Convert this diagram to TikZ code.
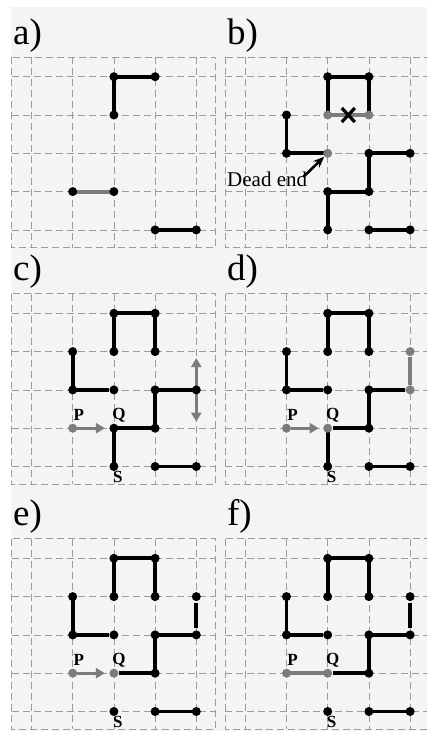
\documentclass[tikz,border=0pt]{standalone}
\usepackage{fontspec}
\setmainfont{Liberation Serif}
\usepackage{tikz}
\usetikzlibrary{arrows.meta,calc}
\definecolor{paper}{HTML}{F4F4F4}
\definecolor{gridgray}{HTML}{9C9C9C}
\definecolor{trialgray}{HTML}{7C7C7C}
\tikzset{
  gridline/.style ={draw=gridgray,line width=0.8pt,dash pattern=on 7pt off 4pt},
  link/.style     ={line width=3.8pt,black},
  trial/.style    ={line width=3.8pt,trialgray},
  vtx/.style      ={fill=black},
  gvtx/.style     ={fill=trialgray},
  probe/.style    ={>={Triangle[length=9pt,width=10pt]},line width=2.6pt,trialgray},
  pointer/.style  ={-{Stealth[length=11pt,width=9pt]},line width=2.6pt,black},
  xmark/.style    ={line width=3.2pt,black},
  tag/.style      ={font=\fontsize{37}{40}\selectfont,anchor=base west,inner sep=0pt},
  lbl/.style      ={font=\fontsize{17}{18}\selectfont\bfseries,inner sep=0pt},
  note/.style     ={font=\fontsize{21}{24}\selectfont,anchor=base west,inner sep=0pt}
}

\begin{document}
\begin{tikzpicture}[x=1pt,y=-1pt]
  \useasboundingbox (0,0) rectangle (427,731);
  \fill[paper] (11,7) rectangle (427,731);
  \foreach \pn/\px/\py in {a/31.5/76.7,b/245.3/76.7,c/31.5/313.3,d/245.3/313.3,e/31.5/558.3,f/245.3/558.3}{
    \begin{scope}[shift={(\px,\py)}]
      \draw[gridline] (-20,-19.5) rectangle (184,171);
      \foreach \i in {0,...,4}{
        \draw[gridline] (\i*41.2,-19.5) -- (\i*41.2,171);
        \draw[gridline] (-20,\i*38.3) -- (184,\i*38.3);
        \foreach \j in {0,...,4}
          \coordinate (\pn-\i-\j) at (\i*41.2,\j*38.3);
      }
      \node[tag] (\pn-tag) at (-18.5,-32.5) {\pn)};
    \end{scope}
  }

  % a)
  \draw[link] (a-2-1) -- (a-2-0) -- (a-3-0);
  \draw[trial] (a-1-3) -- (a-2-3);
  \draw[link] (a-3-4) -- (a-4-4);
  \foreach \v in {2-0,3-0,2-1,1-3,2-3,3-4,4-4}
    \fill[vtx] (a-\v) circle[radius=4.5];

  % b)
  \draw[link] (b-2-1) -- (b-2-0) -- (b-3-0) -- (b-3-1);
  \draw[trial] (b-2-1) -- (b-3-1);
  \draw[link,shorten >=4pt] (b-1-1) -- (b-1-2) -- (b-2-2);
  \draw[link] (b-4-2) -- (b-3-2) -- (b-3-3) -- (b-2-3) -- (b-2-4);
  \draw[link] (b-3-4) -- (b-4-4);
  \foreach \v in {2-0,3-0,1-1,1-2,3-2,4-2,3-3,2-3,2-4,3-4,4-4}
    \fill[vtx] (b-\v) circle[radius=4.5];
  \foreach \v in {2-1,3-1,2-2}
    \fill[gvtx] (b-\v) circle[radius=4.5];
  \coordinate (b-x) at ($(b-2-1)!0.5!(b-3-1)$);
  \draw[xmark] ([shift={(-6.5,-7)}]b-x) -- ([shift={(6.5,7)}]b-x)
               ([shift={(-6.5,7)}]b-x) -- ([shift={(6.5,-7)}]b-x);
  \node[note] (deadend) at (227,186) {Dead end};
  \draw[pointer,shorten >=5pt] ([xshift=-4pt,yshift=9pt]deadend.base east) -- (b-2-2);

  % c)
  \draw[link] (c-2-1) -- (c-2-0) -- (c-3-0) -- (c-3-1);
  \draw[link,shorten >=5pt] (c-1-1) -- (c-1-2) -- (c-2-2);
  \draw[link] (c-4-2) -- (c-3-2) -- (c-3-3) -- (c-2-3) -- (c-2-4);
  \draw[link] (c-3-4) -- (c-4-4);
  \draw[probe,<->,shorten <=6.5pt,shorten >=6.5pt] (c-4-1) -- (c-4-3);
  \draw[probe,->,shorten <=4pt,shorten >=9pt] (c-1-3) -- (c-2-3);
  \foreach \v in {2-0,3-0,2-1,3-1,1-1,1-2,2-2,3-2,4-2,3-3,2-3,2-4,3-4,4-4}
    \fill[vtx] (c-\v) circle[radius=4.5];
  \fill[gvtx] (c-1-3) circle[radius=4.5];

  % d)
  \draw[link] (d-2-1) -- (d-2-0) -- (d-3-0) -- (d-3-1);
  \draw[link,shorten >=5pt] (d-1-1) -- (d-1-2) -- (d-2-2);
  \draw[link,shorten <=5pt,shorten >=5pt] (d-4-2) -- (d-3-2) -- (d-3-3) -- (d-2-3);
  \draw[link,shorten <=4pt] (d-2-3) -- (d-2-4);
  \draw[link] (d-3-4) -- (d-4-4);
  \draw[trial,shorten <=5pt,shorten >=5pt] (d-4-1) -- (d-4-2);
  \draw[probe,->,shorten <=4pt,shorten >=9pt] (d-1-3) -- (d-2-3);
  \foreach \v in {2-0,3-0,2-1,3-1,1-1,1-2,2-2,3-2,3-3,2-4,3-4,4-4}
    \fill[vtx] (d-\v) circle[radius=4.5];
  \foreach \v in {1-3,2-3,4-1,4-2}
    \fill[gvtx] (d-\v) circle[radius=4.5];

  % e)
  \draw[link] (e-2-1) -- (e-2-0) -- (e-3-0) -- (e-3-1);
  \draw[link,shorten >=5pt] (e-1-1) -- (e-1-2) -- (e-2-2);
  \draw[link,shorten >=5pt] (e-4-2) -- (e-3-2) -- (e-3-3) -- (e-2-3);
  \draw[link,shorten <=6.5pt,shorten >=6.5pt] (e-4-1) -- (e-4-2);
  \draw[link] (e-3-4) -- (e-4-4);
  \draw[probe,->,shorten <=4pt,shorten >=9pt] (e-1-3) -- (e-2-3);
  \foreach \v in {2-0,3-0,2-1,3-1,1-1,1-2,2-2,3-2,4-2,4-1,3-3,2-4,3-4,4-4}
    \fill[vtx] (e-\v) circle[radius=4.5];
  \foreach \v in {1-3,2-3}
    \fill[gvtx] (e-\v) circle[radius=4.5];

  % f)
  \draw[link] (f-2-1) -- (f-2-0) -- (f-3-0) -- (f-3-1);
  \draw[link,shorten >=5pt] (f-1-1) -- (f-1-2) -- (f-2-2);
  \draw[link,shorten >=5pt] (f-4-2) -- (f-3-2) -- (f-3-3) -- (f-2-3);
  \draw[link,shorten <=6.5pt,shorten >=6.5pt] (f-4-1) -- (f-4-2);
  \draw[link] (f-3-4) -- (f-4-4);
  \draw[trial] (f-1-3) -- (f-2-3);
  \foreach \v in {2-0,3-0,2-1,3-1,1-1,1-2,2-2,3-2,4-2,4-1,3-3,2-4,3-4,4-4}
    \fill[vtx] (f-\v) circle[radius=4.5];
  \foreach \v in {1-3,2-3}
    \fill[gvtx] (f-\v) circle[radius=4.5];

  % P, Q, S
  \foreach \pn in {c,d,e,f}{
    \node[lbl] (\pn-P) at ([shift={(6,-13)}]\pn-1-3) {P};
    \node[lbl] (\pn-Q) at ([shift={(5,-13)}]\pn-2-3) {Q};
    \node[lbl] (\pn-S) at ([shift={(4,10.5)}]\pn-2-4) {S};
  }
\end{tikzpicture}
\end{document}
